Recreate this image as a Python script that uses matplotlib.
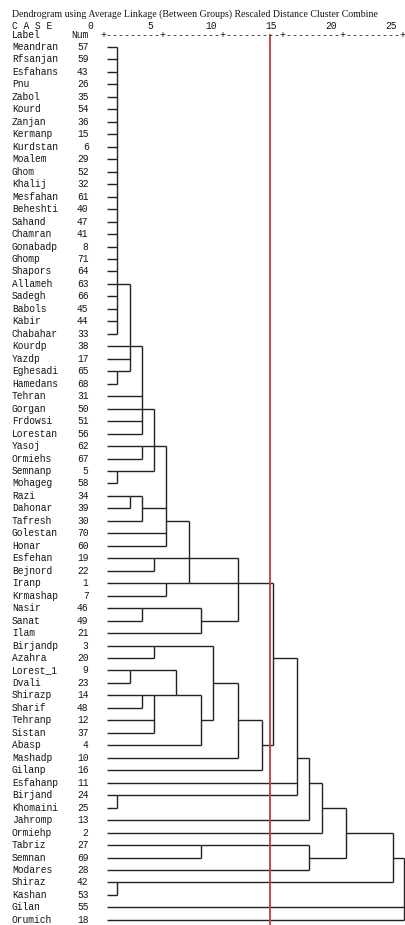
import matplotlib
matplotlib.use("Agg")
import matplotlib.pyplot as plt

# cases in dendrogram order, top to bottom
labels = ["Meandran", "Rfsanjan", "Esfahans", "Pnu", "Zabol", "Kourd", "Zanjan",
          "Kermanp", "Kurdstan", "Moalem", "Ghom", "Khalij", "Mesfahan", "Beheshti",
          "Sahand", "Chamran", "Gonabadp", "Ghomp", "Shapors", "Allameh", "Sadegh",
          "Babols", "Kabir", "Chabahar", "Kourdp", "Yazdp", "Eghesadi", "Hamedans",
          "Tehran", "Gorgan", "Frdowsi", "Lorestan", "Yasoj", "Ormiehs", "Semnanp",
          "Mohageg", "Razi", "Dahonar", "Tafresh", "Golestan", "Honar", "Esfehan",
          "Bejnord", "Iranp", "Krmashap", "Nasir", "Sanat", "Ilam", "Birjandp",
          "Azahra", "Lorest_1", "Dvali", "Shirazp", "Sharif", "Tehranp", "Sistan",
          "Abasp", "Mashadp", "Gilanp", "Esfahanp", "Birjand", "Khomaini", "Jahromp",
          "Ormiehp", "Tabriz", "Semnan", "Modares", "Shiraz", "Kashan", "Gilan",
          "Orumich"]
nums = [57, 59, 43, 26, 35, 54, 36, 15, 6, 29, 52, 32, 61, 40, 47, 41, 8, 71, 64,
        63, 66, 45, 44, 33, 38, 17, 65, 68, 31, 50, 51, 56, 62, 67, 5, 58, 34, 39,
        30, 70, 60, 19, 22, 1, 7, 46, 49, 21, 3, 20, 9, 23, 14, 48, 12, 37, 4, 10,
        16, 11, 24, 25, 13, 2, 27, 69, 28, 42, 53, 55, 18]

# merges: children are case labels or indices of earlier merges
merge_children = [
    labels[:24],
    ["Eghesadi", "Hamedans"],
    [0, "Kourdp", "Yazdp", 1],
    [2, "Tehran", "Gorgan", "Frdowsi", "Lorestan"],
    ["Yasoj", "Ormiehs"],
    ["Semnanp", "Mohageg"],
    [3, 4, 5],
    ["Razi", "Dahonar"],
    [7, "Tafresh"],
    [6, 8, "Golestan", "Honar"],
    ["Iranp", "Krmashap"],
    [9, 10],
    ["Esfehan", "Bejnord"],
    ["Nasir", "Sanat"],
    [13, "Ilam"],
    [12, 11, 14],
    ["Birjandp", "Azahra"],
    ["Lorest_1", "Dvali"],
    ["Shirazp", "Sharif"],
    [18, "Tehranp", "Sistan"],
    [17, 19],
    [20, "Abasp"],
    [16, 21],
    [22, "Mashadp"],
    [23, "Gilanp"],
    [15, 24],
    ["Birjand", "Khomaini"],
    [25, "Esfahanp", 26],
    [27, "Jahromp"],
    [28, "Ormiehp"],
    ["Tabriz", "Semnan"],
    [30, "Modares"],
    [29, 31],
    ["Shiraz", "Kashan"],
    [32, 33],
    [34, "Gilan", "Orumich"],
]
# rescaled distance at which each merge happens
merge_heights = [1.2, 1.2, 2.2, 3.2, 3.2, 1.2, 4.2, 2.2, 3.2, 5.2, 5.2, 7.1,
                 4.2, 3.2, 8.1, 11.2, 4.2, 2.2, 3.2, 4.2, 6.1, 8.1, 9.1, 11.2,
                 13.2, 14.1, 1.2, 16.1, 17.1, 18.2, 8.1, 17.1, 20.2, 1.2, 24.1, 25.0]
# case row the joined cluster continues on
merge_exit = ["Allameh", "Eghesadi", "Kourdp", "Gorgan", "Yasoj", "Semnanp", "Yasoj",
              "Razi", "Dahonar", "Tafresh", "Iranp", "Iranp", "Esfehan", "Nasir",
              "Sanat", "Iranp", "Birjandp", "Lorest_1", "Shirazp", "Shirazp",
              "Shirazp", "Tehranp", "Dvali", "Tehranp", "Abasp", "Azahra", "Birjand",
              "Mashadp", "Esfahanp", "Khomaini", "Tabriz", "Semnan", "Ormiehp",
              "Shiraz", "Semnan", None]

scale_ticks = [0, 5, 10, 15, 20, 25]
cut_distance = 13.9

leaf_start = 0.35
line_kw = dict(color="#222222", lw=1.0, solid_capstyle="butt")
mono = "Liberation Mono"
ink = "#141414"
fs = 6.9

fig = plt.figure(figsize=(4.05, 9.25), dpi=100)
ax = fig.add_axes([0, 0, 1, 1])
ax.set_xlim(-8.555, 25.08)
ax.set_ylim(71.41, -2.77)
ax.axis("off")

row = {name: i + 1 for i, name in enumerate(labels)}


def anchor(c):
    if isinstance(c, str):
        return row[c], leaf_start
    return row[merge_exit[c]], merge_heights[c]


for kids, h in zip(merge_children, merge_heights):
    ys = []
    for c in kids:
        y, x0 = anchor(c)
        ax.plot([x0, h], [y, y], **line_kw)
        ys.append(y)
    ax.plot([h, h], [min(ys), max(ys)], **line_kw)

# case labels and numbers
for name, n in zip(labels, nums):
    ax.text(-7.56, row[name], name, family=mono, fontsize=fs,
            ha="left", va="center", color=ink)
    ax.text(-1.2, row[name], str(n), family=mono, fontsize=fs,
            ha="right", va="center", color=ink)

# header
ax.text(-7.56, -1.6, "Dendrogram using Average Linkage (Between Groups) "
        "Rescaled Distance Cluster Combine", family="Liberation Serif",
        fontsize=7.15, ha="left", va="center", color=ink)
ax.text(-7.56, -0.7, "C A S E", family=mono, fontsize=fs,
        ha="left", va="center", color=ink)
for t in scale_ticks:
    ax.text(t - 1.05, -0.7, str(t), family=mono, fontsize=fs,
            ha="center", va="center", color=ink)
ax.text(-7.56, 0.05, "Label", family=mono, fontsize=fs,
        ha="left", va="center", color=ink)
ax.text(-2.6, 0.05, "Num", family=mono, fontsize=fs,
        ha="left", va="center", color=ink)
ax.text(12.5, 0.05, "+" + ("-" * 9 + "+") * 5, family=mono, fontsize=7.22,
        ha="center", va="center", color=ink)

# cut line
ax.plot([cut_distance, cut_distance], [0.05, 71.41], color="#c93a3a", lw=1.3)

fig.savefig("out.png", dpi=100)
